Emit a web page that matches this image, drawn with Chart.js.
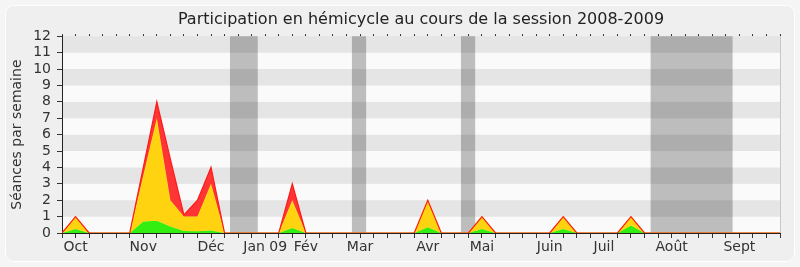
<!DOCTYPE html>
<html>
<head>
<meta charset="utf-8">
<script src="https://cdn.jsdelivr.net/npm/chart.js@4/dist/chart.umd.min.js"></script>
<style>
  body { margin: 0; background: #f5f5f5; }
</style>
</head>
<body>
<canvas id="myChart" width="800" height="267"></canvas>
<script>
// semaines de la session (index 0 = début octobre 2008)
const semaines = Array.from({ length: 54 }, (_, i) => i);

// présences (valeurs cumulées)
const vert = [
  0, 0.25, 0, 0, 0, 0, 0.7, 0.75, 0.4, 0.12, 0.1, 0.15, 0,
  0, 0, 0, 0, 0.3, 0,
  0, 0, 0, 0, 0, 0, 0, 0, 0.35, 0,
  0, 0, 0.25, 0,
  0, 0, 0, 0, 0.25, 0,
  0, 0, 0, 0.45, 0,
  0, 0, 0, 0, 0, 0, 0, 0, 0, 0
];
const jaune = [
  0, 1, 0, 0, 0, 0, 3.5, 7, 2, 1, 1, 3, 0,
  0, 0, 0, 0, 2, 0,
  0, 0, 0, 0, 0, 0, 0, 0, 2, 0,
  0, 0, 1, 0,
  0, 0, 0, 0, 1, 0,
  0, 0, 0, 1, 0,
  0, 0, 0, 0, 0, 0, 0, 0, 0, 0
];
const rouge = [
  0, 1, 0, 0, 0, 0, 4, 8, 4.5, 1.1, 2, 4, 0,
  0, 0, 0, 0, 3, 0,
  0, 0, 0, 0, 0, 0, 0, 0, 2, 0,
  0, 0, 1, 0,
  0, 0, 0, 0, 1, 0,
  0, 0, 0, 1, 0,
  0, 0, 0, 0, 0, 0, 0, 0, 0, 0
];

// étiquettes de mois
const moisSemaines = [1, 6, 11, 15, 18, 22, 27, 31, 36, 40, 45, 50];
const moisLabels = ["Oct", "Nov", "Déc", "Jan 09", "Fév", "Mar", "Avr", "Mai", "Juin", "Juil", "Août", "Sept"];

// vacances parlementaires (en semaines)
const vacances = [[12.4, 14.45], [21.4, 22.45], [29.45, 30.5], [43.45, 49.5]];

const yTicks = [0, 1, 2, 3, 4, 5, 6, 7, 8, 9, 10, 11, 12];

const police = "'DejaVu Sans', Verdana, sans-serif";

const fond = {
  id: "fond",
  beforeDraw(chart) {
    const { ctx, chartArea: a, scales } = chart;
    ctx.save();
    ctx.fillStyle = "#f5f5f5";
    ctx.fillRect(0, 0, chart.width, chart.height);
    ctx.beginPath();
    ctx.roundRect(5.5, 5.5, 789, 256, 8);
    ctx.fillStyle = "#efefef";
    ctx.fill();
    ctx.strokeStyle = "#ffffff";
    ctx.lineWidth = 1;
    ctx.stroke();

    const y = scales.y;
    for (let v = 0; v < 12; v++) {
      const top = y.getPixelForValue(v + 1);
      const bot = y.getPixelForValue(v);
      ctx.fillStyle = v % 2 ? "#e5e5e5" : "#fafafa";
      ctx.fillRect(a.left, top, a.right - a.left, bot - top);
    }
    const x = scales.x;
    ctx.fillStyle = "rgba(0,0,0,0.245)";
    vacances.forEach(([d, f]) => {
      const x0 = x.getPixelForValue(d);
      const x1 = x.getPixelForValue(f);
      ctx.fillRect(x0, a.top, x1 - x0, a.bottom - a.top);
    });
    ctx.strokeStyle = "#c8c8c8";
    ctx.beginPath();
    ctx.moveTo(a.right + 0.5, a.top);
    ctx.lineTo(a.right + 0.5, a.bottom);
    ctx.stroke();
    ctx.restore();
  }
};

const ctx = document.getElementById("myChart");
new Chart(ctx, {
  type: "line",
  data: {
    labels: semaines,
    datasets: [
      { label: "vert", data: vert, fill: "origin", backgroundColor: "#33ee11", borderColor: "#33ee11", borderWidth: 0.5, order: 2 },
      { label: "jaune", data: jaune, fill: "-1", backgroundColor: "#ffd30f", borderColor: "#ffee22", borderWidth: 1, order: 1 },
      { label: "rouge", data: rouge, fill: "-1", backgroundColor: "#ff3535", borderColor: "#ff1a1a", borderWidth: 1.2, order: 0 },
    ],
  },
  options: {
    responsive: false,
    animation: false,
    elements: { point: { radius: 0 }, line: { tension: 0 } },
    layout: { padding: { left: 0, right: 20, top: 0, bottom: 0 } },
    plugins: {
      legend: { display: false },
      tooltip: { enabled: false },
      title: {
        display: true,
        fullSize: false,
        text: "Participation en hémicycle au cours de la session 2008-2009",
        color: "#222",
        font: { family: police, size: 16, weight: "normal" },
        padding: { top: 10, bottom: 3 },
      },
    },
    scales: {
      x: {
        type: "linear",
        position: "bottom",
        min: 0,
        max: 53,
        z: 1,
        afterBuildTicks: (s) => { s.ticks = semaines.map((v) => ({ value: v })); },
        afterFit: (s) => { s.height = 34; },
        grid: { drawOnChartArea: false, tickLength: 5, color: "#333" },
        border: { color: "#222" },
        ticks: {
          autoSkip: false,
          maxRotation: 0,
          padding: 1,
          color: "#333",
          font: { family: police, size: 14 },
          callback: (v) => {
            const i = moisSemaines.indexOf(v);
            return i >= 0 ? moisLabels[i] : "";
          },
        },
      },
      xHaut: {
        type: "linear",
        position: "top",
        min: 0,
        max: 53,
        afterBuildTicks: (s) => { s.ticks = semaines.map((v) => ({ value: v })); },
        afterFit: (s) => { s.height = 4; },
        grid: { drawOnChartArea: false, tickLength: 2, color: "#222" },
        border: { display: false },
        ticks: { display: false },
      },
      y: {
        min: 0,
        max: 12,
        afterBuildTicks: (s) => { s.ticks = yTicks.map((v) => ({ value: v })); },
        afterFit: (s) => { s.width = 62; },
        grid: { drawOnChartArea: false, tickLength: 5, color: "#333" },
        border: { color: "#222" },
        ticks: { autoSkip: false, padding: 6, color: "#333", font: { family: police, size: 14 } },
        title: {
          display: true,
          text: "Séances par semaine",
          color: "#333",
          font: { family: police, size: 14 },
          padding: { top: 9, bottom: 0 },
        },
      },
    },
  },
  plugins: [fond],
});
</script>
</body>
</html>
